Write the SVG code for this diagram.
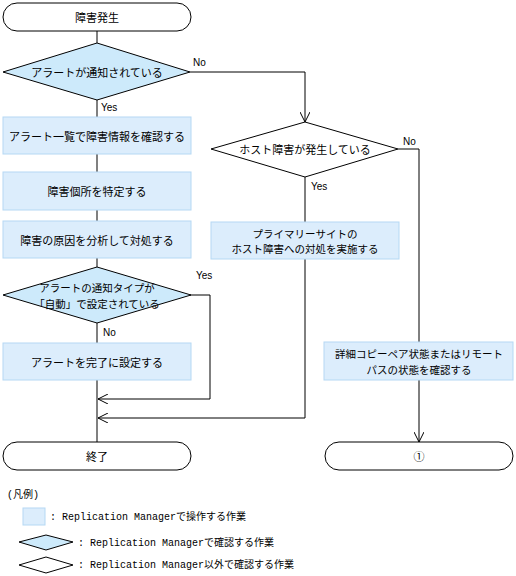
<svg xmlns="http://www.w3.org/2000/svg" width="516" height="576" viewBox="0 0 516 576">
<defs>
<style>
text{font-family:"Noto Sans CJK JP","Liberation Sans",sans-serif;font-size:11px;fill:#000;text-anchor:middle;dominant-baseline:central}
.two{font-size:10.5px}
.lbl{font-family:"Liberation Sans","Noto Sans CJK JP",sans-serif;font-size:10px;text-anchor:start}
.leg{font-family:"Liberation Mono","Noto Sans CJK JP",monospace;font-size:10px;text-anchor:start}
.term{fill:#fff;stroke:#000;stroke-width:1}
.box{fill:#dcedfc;stroke:#b5d8f4;stroke-width:1}
.dia{fill:#cdeafb;stroke:#000;stroke-width:1}
.diaw{fill:#fff;stroke:#000;stroke-width:1}
.main{stroke:#808080;stroke-width:2;fill:none}
.ln{stroke:#000;stroke-width:1;fill:none}
</style>
<marker id="arr" viewBox="0 0 10 10" refX="10" refY="5" markerWidth="10" markerHeight="10" markerUnits="userSpaceOnUse" orient="auto">
<path d="M0,0 L10,5 L0,10" fill="none" stroke="#000" stroke-width="1"/>
</marker>
</defs>
<g id="connectors">
<path class="main" d="M97,31 V43"/>
<path class="main" d="M97,100 V117"/>
<path class="main" d="M97,154 V172"/>
<path class="main" d="M97,210 V221"/>
<path class="main" d="M97,258 V267"/>
<path class="main" d="M97,323 V343"/>
<path class="main" d="M97,380 V442"/>
<path class="ln" d="M190,72 H305 V122" marker-end="url(#arr)"/>
<path class="ln" d="M305,177 V222"/>
<path class="ln" d="M305,259 V418 H98" marker-end="url(#arr)"/>
<path class="ln" d="M190,295 H210 V399 H98" marker-end="url(#arr)"/>
<path class="ln" d="M398,149 H419 V342"/>
<path class="ln" d="M419,380 V442" marker-end="url(#arr)"/>
</g>
<g id="start"><rect class="term" x="3" y="3" width="188" height="28" rx="14"/><text x="97" y="17">障害発生</text></g>
<g id="d1"><polygon class="dia" points="3,72 97,43 190,72 97,100"/><text x="97" y="72">アラートが通知されている</text></g>
<g id="b1"><rect class="box" x="3" y="117" width="188" height="37"/><text x="97" y="135.5">アラート一覧で障害情報を確認する</text></g>
<g id="b2"><rect class="box" x="3" y="172" width="188" height="38"/><text x="97" y="191">障害個所を特定する</text></g>
<g id="b3"><rect class="box" x="3" y="221" width="188" height="37"/><text x="97" y="239.5">障害の原因を分析して対処する</text></g>
<g id="d4"><polygon class="dia" points="3,295 97,267 191,295 97,323"/><text class="two" x="97" y="287.25"><tspan x="97" y="287.25">アラートの通知タイプが</tspan><tspan x="97" y="302.75">「自動」で設定されている</tspan></text></g>
<g id="b4"><rect class="box" x="3" y="343" width="188" height="37"/><text x="97" y="361.5">アラートを完了に設定する</text></g>
<g id="end"><rect class="term" x="3" y="442" width="188" height="28" rx="14"/><text x="97" y="456">終了</text></g>
<g id="d2"><polygon class="diaw" points="211,149 305,122 398,149 305,177"/><text x="305" y="149">ホスト障害が発生している</text></g>
<g id="b5"><rect class="box" x="211" y="222" width="188" height="37"/><text class="two" x="305" y="232.75"><tspan x="305" y="232.75">プライマリーサイトの</tspan><tspan x="305" y="248.25">ホスト障害への対処を実施する</tspan></text></g>
<g id="b6"><rect class="box" x="324" y="342" width="189" height="38"/><text class="two" x="419" y="353.25"><tspan x="419" y="353.25">詳細コピーペア状態またはリモート</tspan><tspan x="419" y="368.75">パスの状態を確認する</tspan></text></g>
<g id="end2"><rect class="term" x="325" y="442" width="188" height="28" rx="14"/><text x="419" y="456">①</text></g>
<g id="labels">
<text class="lbl" x="193" y="62">No</text>
<text class="lbl" x="101" y="107">Yes</text>
<text class="lbl" x="403" y="141">No</text>
<text class="lbl" x="311" y="186">Yes</text>
<text class="lbl" x="196" y="275">Yes</text>
<text class="lbl" x="103" y="332">No</text>
</g>
<g id="legend">
<text class="leg" x="7" y="495">(凡例)</text>
<rect class="box" x="23" y="508" width="22" height="17"/>
<text class="leg" x="50" y="517">: Replication Managerで操作する作業</text>
<polygon class="dia" points="19,542 46,535 73,542 46,550"/>
<text class="leg" x="78" y="543">: Replication Managerで確認する作業</text>
<polygon class="diaw" points="19,565 46,557 73,565 46,573"/>
<text class="leg" x="78" y="565">: Replication Manager以外で確認する作業</text>
</g>
</svg>
